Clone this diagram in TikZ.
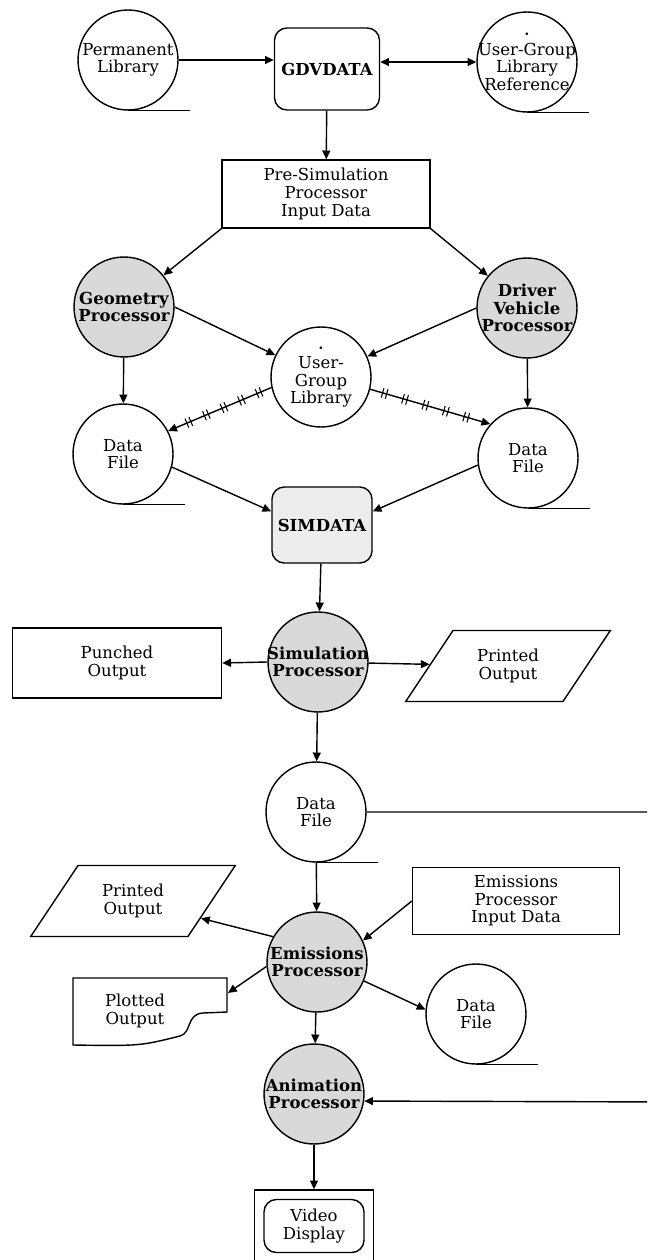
\documentclass[tikz,border=0pt]{standalone}
\usepackage{fontspec}
\setmainfont{DejaVu Serif}
\usetikzlibrary{arrows.meta,shapes.geometric,decorations.markings,fit}

\newcommand\dotmark{{\tiny\textbullet}}

\begin{document}
\begin{tikzpicture}[x=0.02cm, y=-0.02cm, line width=0.8pt, >={Triangle[length=5pt,width=4.5pt]},
    every node/.style={font=\fontsize{9.4}{10}\selectfont, align=center},
    store/.style={circle, draw, minimum size=2cm, inner sep=-7pt},
    proc/.style={store, fill=black!15, font=\fontsize{9.4}{10}\selectfont\bfseries},
    databox/.style={rectangle, draw, minimum width=4.16cm, minimum height=1.36cm},
    filebox/.style={rectangle, draw, rounded corners=7pt, minimum width=2cm, font=\fontsize{9.4}{10}\selectfont\bfseries},
    printout/.style={trapezium, draw, trapezium left angle=55, trapezium right angle=125,
      trapezium stretches=true, minimum width=4.1cm, minimum height=1.42cm},
    flow/.style={->},
    tickline/.style={->, postaction={decorate}, decoration={markings,
      mark=between positions 0.12 and 0.8 step 0.17 with {\draw[-, line width=0.6pt] (-1.2pt,-2.8pt) -- (-1.2pt,2.8pt) (1.2pt,-2.8pt) -- (1.2pt,2.8pt);}}}]
  \clip (0,0) rectangle (647,1260);

  % upper part
  \node[store] (perm) at (128,60) {Permanent\\Library};
  \node[filebox, minimum width=2.1cm, minimum height=1.64cm] (gdv) at (327,69) {GDVDATA};
  \node[store] (ugref) at (527,62) {\dotmark\\User-Group\\Library\\Reference};
  \node[databox] (pre) at (326,194) {Pre-Simulation\\Processor\\Input Data};
  \node[proc] (geo) at (124,307) {Geometry\\Processor};
  \node[proc] (drv) at (527,308) {Driver\\Vehicle\\Processor};
  \node[store] (ugl) at (321,377) {\dotmark\\User-\\Group\\Library};
  \node[store] (dfa) at (123,454) {Data\\File};
  \node[store] (dfb) at (528,458) {Data\\File};
  \node[filebox, fill=black!7, minimum height=1.52cm] (sim) at (322,525) {SIMDATA};

  % simulation
  \node[proc] (simp) at (318,662) {Simulation\\Processor};
  \node[databox, minimum width=4.18cm, minimum height=1.4cm] (punch) at (117,663) {Punched\\Output};
  \node[printout] (prta) at (508,666) {Printed\\Output};
  \node[store] (dfc) at (316,812) {Data\\File};

  % emissions and animation
  \node[proc] (emi) at (317,962) {Emissions\\Processor};
  \node[printout] (prtb) at (133,901) {Printed\\Output};
  \node[databox, minimum width=4.14cm, minimum height=1.34cm] (eid) at (516,901) {Emissions\\Processor\\Input Data};
  \draw (73,978) -- (227,978) -- (227,1012) -- (203,1013) .. controls (186,1014) and (192,1033) .. (180,1036)
    .. controls (140,1046) .. (73,1045) -- cycle;
  \node (plot) at (135,1011) {Plotted\\Output};
  \coordinate (plotin) at (228,993);
  \node[store] (dfd) at (476,1014) {Data\\File};
  \node[proc] (anim) at (314,1094) {Animation\\Processor};
  \node[draw, rounded corners=7pt, minimum width=2cm, minimum height=1.06cm] (vid) at (314,1226) {Video\\Display};
  \node[draw, fit=(vid), inner sep=5pt] (vidbox) {};

  \foreach \n in {perm,ugref,dfa,dfb,dfc,dfd}
    \draw (\n.south) -- ++(62,0);

  \draw[flow] (perm.east) -- (gdv.west |- perm.east);
  \draw[<->] (gdv.east |- ugref.west) -- (ugref.west);
  \draw[flow] (gdv) -- (pre);
  \draw[flow] (pre.south west) -- (geo);
  \draw[flow] (pre.south east) -- (drv);
  \draw[flow] (geo.east) -- (ugl);
  \draw[flow] (drv.west) -- (ugl);
  \draw[flow] (geo) -- (dfa);
  \draw[flow] (drv) -- (dfb);
  \draw[tickline] (ugl.192) -- (dfa.27);
  \draw[tickline] (ugl.346) -- (dfb.138);
  \draw[flow] (dfa.345) -- (sim.165);
  \draw[flow] (dfb.188) -- (sim.15);
  \draw[flow] (sim) -- (simp);
  \draw[flow] (simp.west) -- (punch.east);
  \draw[flow] (simp) -- (prta);
  \draw[flow] (simp) -- (dfc);
  \draw[flow] (dfc) -- (emi);
  \draw[flow] (dfc.east) -| (680,1102) -- (anim.352);
  \draw[flow] (eid.west) -- (emi.25);
  \draw[flow] (emi.150) -- (prtb);
  \draw[flow] (emi.185) -- (plotin);
  \draw[flow] (emi.338) -- (dfd.175);
  \draw[flow] (emi) -- (anim);
  \draw[flow] (anim) -- (vidbox);
\end{tikzpicture}
\end{document}
